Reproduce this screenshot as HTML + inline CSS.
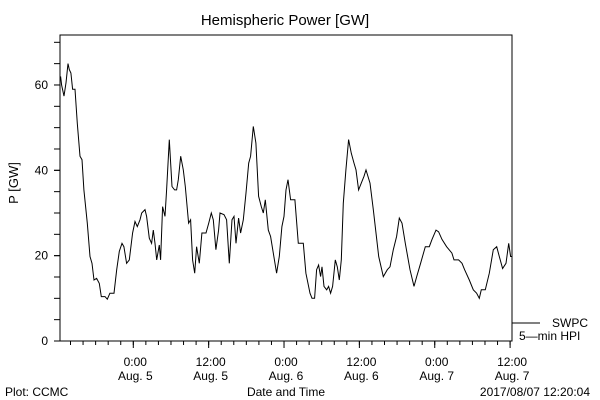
<!DOCTYPE html>
<html><head><meta charset="utf-8"><style>
body{margin:0;background:#fff;}
svg{display:block;font-family:"Liberation Sans",sans-serif;}
</style></head><body>
<svg id="chart" width="600" height="400" viewBox="0 0 600 400">
<text x="285" y="25" font-size="15" text-anchor="middle">Hemispheric Power [GW]</text>
<text x="0" y="0" font-size="13" text-anchor="middle" transform="translate(18,183) rotate(-90)">P [GW]</text>
<text x="286" y="396" font-size="12" text-anchor="middle">Date and Time</text>
<text x="5" y="396" font-size="12">Plot: CCMC</text>
<text x="590" y="396" font-size="12" text-anchor="end">2017/08/07 12:20:04</text>
<rect x="60" y="35" width="452" height="306" fill="none" stroke="#000" stroke-width="1"/>
<g id="axes"></g>
<g id="series"></g>
<line x1="512" y1="323" x2="540" y2="323" stroke="#000"/>
<text x="552" y="327" font-size="12">SWPC</text>
<text x="519" y="340" font-size="12">5—min HPI</text>
</svg>
<script>
const hours=[-11.57,-11.41,-11.04,-10.72,-10.40,-10.19,-9.93,-9.66,-9.29,-8.92,-8.49,-8.17,-7.86,-7.32,-6.90,-6.58,-6.26,-5.84,-5.41,-5.10,-4.51,-4.14,-3.72,-3.08,-2.65,-2.23,-1.80,-1.49,-1.06,-0.64,-0.11,0.27,0.64,1.06,1.33,1.86,2.12,2.55,2.92,3.18,3.45,3.72,4.14,4.35,4.67,5.04,5.31,5.73,6.16,6.58,6.90,7.17,7.54,7.96,8.28,8.81,9.13,9.45,9.77,10.08,10.51,10.93,11.57,12.00,12.42,12.74,13.16,13.59,13.80,14.44,14.86,15.29,15.71,16.03,16.35,16.77,17.09,17.52,17.94,18.37,18.68,19.11,19.53,19.96,20.38,20.70,21.02,21.50,21.87,22.29,22.82,23.25,23.67,23.99,24.31,24.63,25.05,25.74,26.27,26.54,27.07,27.49,28.13,28.45,28.87,29.19,29.51,29.83,30.04,30.36,30.79,31.10,31.42,31.74,32.17,32.48,32.80,33.12,33.44,33.86,34.29,34.71,35.14,35.46,35.88,36.31,36.73,37.05,37.69,38.22,39.07,39.81,40.45,40.87,41.40,41.93,42.36,42.78,43.31,44.06,44.69,45.12,45.75,46.50,47.13,47.56,48.20,48.62,49.15,49.89,50.74,51.06,51.80,52.34,52.76,53.50,54.14,54.67,55.10,55.41,56.05,56.69,57.32,57.86,58.28,58.81,59.34,59.77,60.08,60.30];
const power=[62,60,57.4,60.5,65,63.6,62.8,59,59,51,43.3,42.5,35.4,27.6,19.8,18.2,14.3,14.7,13.5,10.4,10.4,9.8,11.2,11.2,16.7,21,22.9,22.1,18.2,19,25.3,28,26.8,28.4,30,30.8,29.2,24.1,22.9,26,22.9,19,22.5,19,31.5,29.2,35.4,47.2,36.2,35.4,35.4,37.8,43.3,40.1,36.2,27.6,28.4,19,15.9,22.1,18.2,25.3,25.3,27.6,30,28.4,21.4,26,30,29.6,28.4,18.2,28.4,29.2,22.9,28.8,25.3,28.4,34.7,41.7,43.3,50.3,46.4,33.9,31.5,30,33.1,26,24.5,20.6,15.9,19.8,26.8,29.2,35.4,37.8,33.1,33.1,22.9,22.9,22.9,15.9,11.2,10,10,16.7,17.8,15.1,17.4,12.8,12,12.8,11.2,12.8,19,17.4,14.3,19,32.3,40.1,47.2,44,41.7,40.1,35.4,37,38.6,40.1,37,30.8,19.8,15.1,16.7,17.4,21.4,24.5,28.8,27.6,22.9,16.7,12.8,15.1,18.2,22.1,22.1,23.8,26,25.6,23.8,22.1,20.6,19,19,18.2,16.7,14.3,12,11.2,10,12,12,15.9,21.4,22.1,19.8,17,18.2,22.9,19.8,19.8];
const yTickValues=[0,20,40,60];
const xTickHours=[0,12,24,36,48,60];
const xTickTimes=["0:00","12:00","0:00","12:00","0:00","12:00"];
const xTickDates=["Aug. 5","Aug. 5","Aug. 6","Aug. 6","Aug. 7","Aug. 7"];
const NS="http://www.w3.org/2000/svg";
const X=h=>133.3+h*6.28;
const Y=v=>341-v*4.267;
const axes=document.getElementById('axes');
function mk(tag,attrs,parent){const e=document.createElementNS(NS,tag);for(const k in attrs)e.setAttribute(k,attrs[k]);parent.appendChild(e);return e;}
for(let v=5;v<=70;v+=5){
  const t=mk('line',{x1:54,x2:60,y1:Y(v),y2:Y(v),stroke:'#000'},axes);
  
  
}
yTickValues.forEach(v=>{
  const t=mk('line',{x1:54,x2:60,y1:Y(v),y2:Y(v),stroke:'#000'},axes);
  
  
  const l=mk('text',{x:48,y:Y(v)+4,'font-size':12,'text-anchor':'end'},axes);
  l.textContent=v;
  
  
});
for(let h=-10;h<=60;h+=2){
  const t=mk('line',{x1:X(h),x2:X(h),y1:341,y2:345,stroke:'#000'},axes);
  
  
}
xTickHours.forEach((h,i)=>{
  const t=mk('line',{x1:X(h),x2:X(h),y1:341,y2:348,stroke:'#000'},axes);
  
  
  const a=mk('text',{x:X(h)+2,y:366,'font-size':12,'text-anchor':'middle'},axes);
  a.textContent=xTickTimes[i];
  
  
  const b=mk('text',{x:X(h)+2,y:380,'font-size':12,'text-anchor':'middle'},axes);
  b.textContent=xTickDates[i];
  
  
});
const pts=hours.map((h,i)=>X(h).toFixed(1)+','+Y(power[i]).toFixed(1)).join(' ');
const line=mk('polyline',{points:pts,fill:'none',stroke:'#000','stroke-width':1},document.getElementById('series'));


</script>
</body></html>
